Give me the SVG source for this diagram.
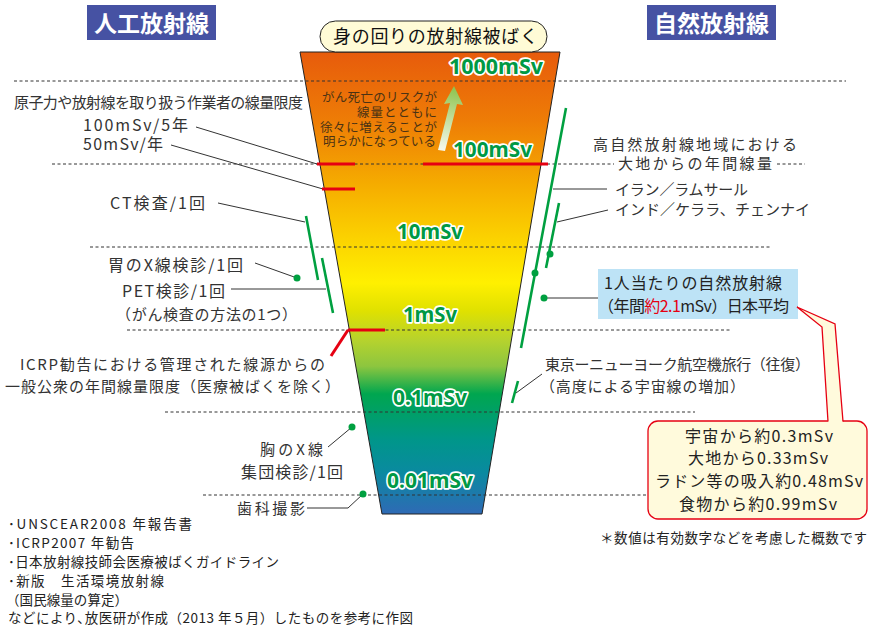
<svg xmlns="http://www.w3.org/2000/svg" width="873" height="627" viewBox="0 0 873 627">
<defs>
<linearGradient id="fg" gradientUnits="userSpaceOnUse" x1="0" y1="52" x2="0" y2="514">
<stop offset="0" stop-color="#E75B0C"/>
<stop offset="0.15" stop-color="#EE7D06"/>
<stop offset="0.28" stop-color="#F5AA00"/>
<stop offset="0.40" stop-color="#FBD100"/>
<stop offset="0.50" stop-color="#FFF000"/>
<stop offset="0.56" stop-color="#E0E100"/>
<stop offset="0.625" stop-color="#B5D22E"/>
<stop offset="0.68" stop-color="#8DC63F"/>
<stop offset="0.74" stop-color="#00A64F"/>
<stop offset="0.84" stop-color="#00968A"/>
<stop offset="0.91" stop-color="#0A8AA0"/>
<stop offset="1" stop-color="#2F6AB5"/>
</linearGradient>
<linearGradient id="ag" gradientUnits="userSpaceOnUse" x1="441" y1="150" x2="454" y2="86">
<stop offset="0" stop-color="#F6F9EC"/>
<stop offset="1" stop-color="#8CC24A"/>
</linearGradient>
</defs>
<style>
.t{font-family:"Noto Sans CJK JP","Noto Sans",sans-serif;fill:#333;font-size:15px}
.m{font-size:16px}
.s{font-family:"Noto Sans CJK JP","Noto Sans",sans-serif;fill:#222;font-size:13.5px}
.b{font-family:"Noto Sans CJK JP","Noto Sans",sans-serif;fill:#4a3214;font-size:12.5px}
.ttl{font-family:"Noto Sans CJK JP",sans-serif;fill:#fff;font-size:23px;font-weight:bold}
.g{font-family:"Noto Sans","Noto Sans CJK JP",sans-serif;fill:#009944;font-size:22px;font-weight:bold;stroke:#fff;stroke-width:3.5;paint-order:stroke;stroke-linejoin:round}
.d{stroke:#333;stroke-width:1;stroke-dasharray:3 2.5;fill:none}
.l{stroke:#333;stroke-width:1;fill:none}
.gr{stroke:#00A040;stroke-width:2.6;fill:none}
.r{stroke:#E60012;stroke-width:3;fill:none}
.dot{fill:#00A040}
</style>
<rect width="873" height="627" fill="#fff"/>

<g id="title-artificial">
<rect x="87" y="5" width="129" height="35" fill="#4652A3"/>
<text class="ttl" x="151.5" y="32" text-anchor="middle">人工放射線</text>
</g>
<g id="title-natural">
<rect x="647" y="5" width="129" height="35" fill="#4652A3"/>
<text class="ttl" x="711.5" y="32" text-anchor="middle">自然放射線</text>
</g>

<g id="funnel">
<polygon points="300,52 560,52 482,514 382,514" fill="url(#fg)" stroke="#222" stroke-width="1"/>
</g>

<g id="top-label">
<rect x="320" y="21" width="227" height="31" rx="15.5" fill="#FFFBD6" stroke="#222" stroke-width="1"/>
<text class="t" x="435.5" y="43" text-anchor="middle" style="font-size:18px;fill:#111" textLength="205" lengthAdjust="spacing">身の回りの放射線被ばく</text>
</g>

<g id="grid-lines">
<line class="d" x1="14" y1="81" x2="846" y2="81"/>
<line class="d" x1="52" y1="164" x2="614" y2="164"/>
<line class="d" x1="777" y1="164" x2="805" y2="164"/>
<line class="d" x1="90" y1="247" x2="770" y2="247"/>
<line class="d" x1="127" y1="330" x2="730" y2="330"/>
<line class="d" x1="165" y1="412" x2="695" y2="412"/>
<line class="d" x1="203" y1="495" x2="648" y2="495"/>
</g>

<g id="risk-note">
<polygon points="454,86 463,105 457,104 445,151 438,150 450,103 444,104" fill="url(#ag)"/>
<text class="b" x="437" y="102" text-anchor="end" textLength="115" lengthAdjust="spacing">がん死亡のリスクが</text>
<text class="b" x="437" y="117" text-anchor="end" textLength="80" lengthAdjust="spacing">線量とともに</text>
<text class="b" x="437" y="132" text-anchor="end" textLength="117" lengthAdjust="spacing">徐々に増えることが</text>
<text class="b" x="436" y="146" text-anchor="end" textLength="113" lengthAdjust="spacing">明らかになっている</text>
</g>

<g id="scale-labels">
<text class="g" x="449" y="74" textLength="94" lengthAdjust="spacingAndGlyphs">1000mSv</text>
<text class="g" x="453" y="157" textLength="79" lengthAdjust="spacingAndGlyphs">100mSv</text>
<text class="g" x="397" y="239" textLength="66" lengthAdjust="spacingAndGlyphs">10mSv</text>
<text class="g" x="403" y="322" textLength="54" lengthAdjust="spacingAndGlyphs">1mSv</text>
<text class="g" x="393" y="405" textLength="74" lengthAdjust="spacingAndGlyphs">0.1mSv</text>
<text class="g" x="387" y="488" textLength="86" lengthAdjust="spacingAndGlyphs">0.01mSv</text>
</g>

<g id="connectors">
<line class="l" x1="196" y1="127" x2="317" y2="164"/>
<line class="l" x1="171" y1="145" x2="323" y2="189"/>
<line class="l" x1="218" y1="203" x2="305" y2="222"/>
<line class="l" x1="255" y1="263" x2="297" y2="278"/>
<line class="l" x1="231" y1="289" x2="326" y2="289"/>
<line class="l" x1="328" y1="447" x2="352" y2="427"/>
<polyline class="l" points="307,508 348,508 363,494"/>
<line class="l" x1="553" y1="189" x2="607" y2="189"/>
<line class="l" x1="557" y1="222" x2="608" y2="210"/>
<line class="l" x1="544" y1="298" x2="598" y2="298"/>
<line class="l" x1="516" y1="393" x2="542" y2="374"/>
<line class="r" x1="317" y1="164" x2="355" y2="164"/>
<line class="r" x1="423" y1="164" x2="548" y2="164"/>
<line class="r" x1="322" y1="189" x2="355" y2="189"/>
<line class="r" x1="348" y1="330" x2="385" y2="330"/>
<line class="r" x1="348" y1="330" x2="331" y2="356"/>
<line class="gr" x1="306" y1="216" x2="318" y2="280"/>
<line class="gr" x1="322" y1="258" x2="333" y2="313"/>
<line class="gr" x1="566" y1="108" x2="521" y2="348"/>
<line class="gr" x1="559" y1="203" x2="546" y2="268"/>
<line class="gr" x1="518" y1="381" x2="512" y2="403"/>
<circle class="dot" cx="297" cy="278" r="3.5"/>
<circle class="dot" cx="535" cy="273" r="3.5"/>
<circle class="dot" cx="550" cy="254" r="3.5"/>
<circle class="dot" cx="544" cy="298" r="3.5"/>
<circle class="dot" cx="352" cy="427" r="3.5"/>
<circle class="dot" cx="363" cy="494" r="3.5"/>
</g>

<g id="worker-limit">
<text class="t" x="14" y="108" textLength="289" lengthAdjust="spacing">原子力や放射線を取り扱う作業者の線量限度</text>
<text class="t m" x="83" y="131" textLength="105" lengthAdjust="spacing">100mSv/5年</text>
<text class="t m" x="83" y="150" textLength="80" lengthAdjust="spacing">50mSv/年</text>
</g>
<g id="ct"><text class="t m" x="110" y="209" textLength="95" lengthAdjust="spacing">CT検査/1回</text></g>
<g id="stomach"><text class="t m" x="108" y="271" textLength="135" lengthAdjust="spacing">胃のX線検診/1回</text></g>
<g id="pet">
<text class="t m" x="122" y="297" textLength="103" lengthAdjust="spacing">PET検診/1回</text>
<text class="t" x="116" y="320" textLength="181" lengthAdjust="spacing">（がん検査の方法の1つ）</text>
</g>
<g id="icrp">
<text class="t" x="20" y="370" textLength="305" lengthAdjust="spacing">ICRP勧告における管理された線源からの</text>
<text class="t" x="5" y="392" textLength="335" lengthAdjust="spacing">一般公衆の年間線量限度（医療被ばくを除く）</text>
</g>
<g id="chest">
<text class="t" x="260" y="455" textLength="63" lengthAdjust="spacing">胸のX線</text>
<text class="t m" x="241" y="478" textLength="102" lengthAdjust="spacing">集団検診/1回</text>
</g>
<g id="dental"><text class="t" x="237" y="514" textLength="68" lengthAdjust="spacing">歯科撮影</text></g>

<g id="high-natural">
<text class="t" x="593" y="150" textLength="204" lengthAdjust="spacing">高自然放射線地域における</text>
<text class="t" x="618" y="169" textLength="154" lengthAdjust="spacing">大地からの年間線量</text>
</g>
<g id="iran"><text class="t" x="615" y="195" textLength="133" lengthAdjust="spacing">イラン／ラムサール</text></g>
<g id="india"><text class="t" x="615" y="215" textLength="195" lengthAdjust="spacing">インド／ケララ、チェンナイ</text></g>
<g id="per-capita">
<rect x="598" y="269" width="200" height="50" fill="#BDE3F6"/>
<text class="t" x="604" y="289" style="font-size:16px;fill:#222" textLength="178" lengthAdjust="spacing">1人当たりの自然放射線</text>
<text class="t" x="598" y="312" style="font-size:16px;fill:#222" textLength="191" lengthAdjust="spacing">（年間<tspan fill="#E60012">約2.1</tspan>mSv）日本平均</text>
</g>
<g id="flight">
<text class="t" x="545" y="370" textLength="265" lengthAdjust="spacing">東京ーニューヨーク航空機旅行（往復）</text>
<text class="t" x="540" y="392" textLength="205" lengthAdjust="spacing">（高度による宇宙線の増加）</text>
</g>
<g id="breakdown">
<rect x="648" y="421" width="219" height="98" rx="10" fill="#FFFADC" stroke="#E60012" stroke-width="1.3"/>
<polygon points="797,307 835,324 843,424 828,424 822,327" fill="#FFFADC"/>
<polyline points="828,421.5 822,327 797,307 835,324 843,421.5" fill="none" stroke="#E60012" stroke-width="1.3" stroke-linejoin="miter"/>
<text class="t" x="759" y="442" text-anchor="middle" style="font-size:16px;fill:#222" textLength="148" lengthAdjust="spacing">宇宙から約0.3mSv</text>
<text class="t" x="758" y="464" text-anchor="middle" style="font-size:16px;fill:#222" textLength="140" lengthAdjust="spacing">大地から0.33mSv</text>
<text class="t" x="759" y="487" text-anchor="middle" style="font-size:16px;fill:#222" textLength="208" lengthAdjust="spacing">ラドン等の吸入約0.48mSv</text>
<text class="t" x="758" y="510" text-anchor="middle" style="font-size:16px;fill:#222" textLength="158" lengthAdjust="spacing">食物から約0.99mSv</text>
</g>
<g id="note"><text class="s" x="600" y="543" textLength="267" lengthAdjust="spacing">＊数値は有効数字などを考慮した概数です</text></g>

<g id="sources">
<text class="s" x="8" y="529" textLength="184" lengthAdjust="spacing">･UNSCEAR2008 年報告書</text>
<text class="s" x="8" y="548" textLength="126" lengthAdjust="spacing">･ICRP2007 年勧告</text>
<text class="s" x="8" y="567" textLength="271" lengthAdjust="spacing">･日本放射線技師会医療被ばくガイドライン</text>
<text class="s" x="8" y="586" textLength="156" lengthAdjust="spacing">･新版　生活環境放射線</text>
<text class="s" x="6" y="605" textLength="122" lengthAdjust="spacing">（国民線量の算定）</text>
<text class="s" x="8" y="623" textLength="405" lengthAdjust="spacing">などにより､放医研が作成（2013 年５月）したものを参考に作図</text>
</g>
</svg>
